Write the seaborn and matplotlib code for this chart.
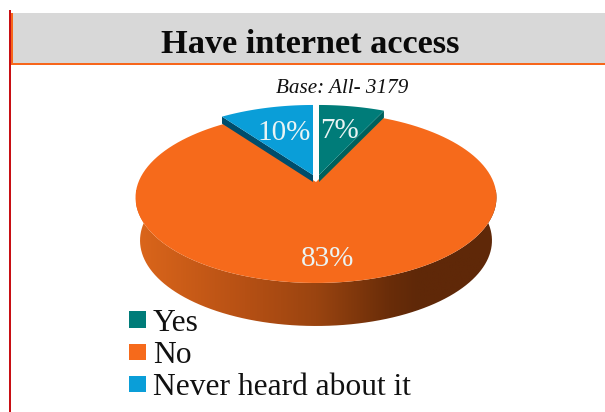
import numpy as np
import matplotlib
matplotlib.use("Agg")
import matplotlib.pyplot as plt
import seaborn as sns
from matplotlib.colors import LinearSegmentedColormap
from matplotlib.patches import Patch, PathPatch, Polygon, Rectangle
from matplotlib.path import Path

# Survey shares
categories = ["Yes", "No", "Never heard about it"]
shares = [7, 83, 10]
title_text = "Have internet access"
base_text = "Base: All- 3179"

sns.set_theme(style="white")
plt.rcParams["font.family"] = ["Liberation Serif", "DejaVu Serif"]
palette = sns.color_palette(["#007C79", "#F66A1B", "#0A9ED8"])
edge_palette = {"Yes": "#00605C", "Never heard about it": "#004D6B"}

# Drawing geometry, in pixels of the figure
WIDTH, HEIGHT = 605, 412
CX, CY = 316.0, 182.0
RX, RY, TILT = 177.5, 82.7, 0.181
DEPTH = 43.0
FLOOR_SCALE = 0.975
LIFT = {"Yes": (3.0, -7.0), "No": (0.0, 0.0), "Never heard about it": (-3.0, -7.0)}
LABEL_POS = {"Yes": (340, 131), "No": (328, 259), "Never heard about it": (284.5, 133)}

fig = plt.figure(figsize=(WIDTH / 100, HEIGHT / 100), dpi=100)
ax = fig.add_axes([0, 0, 1, 1])


def project(u, v, dx=0.0, dy=0.0, scale=1.0):
    """Tilted perspective of a point of the unit disc."""
    den = 1 + TILT * v
    return CX + dx + scale * RX * u / den, CY + dy - RY * v / den


wedges, _, autotexts = ax.pie(
    shares, startangle=90, counterclock=False, colors=palette, autopct="%.0f%%"
)
ax.set_aspect("auto")
ax.axis("off")

# Header band and rules
ax.add_patch(Rectangle((12, 13), WIDTH - 12, 50, fc="#D8D8D8", ec="none", zorder=1))
ax.add_patch(Rectangle((11, 63), WIDTH - 11, 2, fc="#F7661B", ec="none", zorder=2))
ax.add_patch(Rectangle((11, 13), 1.5, 52, fc="#F7661B", ec="none", zorder=2))
ax.add_patch(Rectangle((9, 10), 2.2, HEIGHT - 10, fc="#C80F14", ec="none", zorder=3))

# Outer wall of the disc, shaded from left to right
sweep = np.linspace(np.pi - np.arcsin(TILT), 2 * np.pi + np.arcsin(TILT), 200)
upper = np.column_stack(project(np.cos(sweep), np.sin(sweep)))
lower = np.column_stack(project(np.cos(sweep), np.sin(sweep), dy=DEPTH, scale=FLOOR_SCALE))
wall_path = Path(np.vstack([upper, lower[::-1], upper[:1]]))
wall_cmap = LinearSegmentedColormap.from_list(
    "wall",
    [(0.0, "#DB661B"), (0.30, "#B65014"), (0.50, "#9A4410"), (0.70, "#6A2D09"), (0.78, "#5F2808"), (1.0, "#5F2808")],
)
gradient = ax.imshow(
    np.linspace(0, 1, 256).reshape(1, -1),
    cmap=wall_cmap,
    extent=(136, 497, 326, 190),
    aspect="auto",
    zorder=4,
)
clip = PathPatch(wall_path, transform=ax.transData, fc="none", ec="none")
ax.add_patch(clip)
gradient.set_clip_path(clip)
ax.set_xlim(0, WIDTH)
ax.set_ylim(HEIGHT, 0)

# Top surfaces, using the angles the pie computed from the shares
for name, wedge, colour, text in zip(categories, wedges, palette, autotexts):
    theta = np.radians(np.linspace(wedge.theta1, wedge.theta2, 120))
    dx, dy = LIFT[name]
    arc_x, arc_y = project(np.cos(theta), np.sin(theta), dx, dy)
    tip = (CX + dx, CY + dy)
    wedge.remove()

    if name in edge_palette:
        # Cut face of a raised slice: the radial edge that looks towards the viewer
        side = 0 if name == "Yes" else -1
        rim = (arc_x[side], arc_y[side])
        ax.add_patch(
            Polygon(
                [tip, rim, (rim[0], rim[1] - dy), (tip[0], tip[1] - dy)],
                closed=True, fc=edge_palette[name], ec="none", zorder=5,
            )
        )
    ax.add_patch(
        Polygon(
            np.vstack([[tip], np.column_stack([arc_x, arc_y])]),
            closed=True, fc=colour, ec="none", zorder=6 if name != "No" else 4.5,
        )
    )
    text.set_position(LABEL_POS[name])
    text.set_ha("center")
    text.set_va("center")
    text.set_color("#EAF4F4")
    text.set_fontsize(21)
    text.set_zorder(8)

ax.text(310, 44, title_text, ha="center", va="center", fontsize=24.7,
        fontweight="bold", color="#0A0A0A", zorder=8)
ax.text(342, 88, base_text, ha="center", va="center", fontsize=15.2,
        style="italic", color="#111111", zorder=8)

handles = [Patch(fc=c, ec="none", label=n) for n, c in zip(categories, palette)]
ax.legend(
    handles=handles,
    loc="upper left",
    bbox_to_anchor=(129, 309),
    bbox_transform=ax.transData,
    frameon=False,
    fontsize=22.7,
    labelspacing=0.1,
    handlelength=0.53,
    handleheight=0.44,
    handletextpad=0.22,
    borderpad=0,
    borderaxespad=0,
    labelcolor="#111111",
)

fig.savefig("out.png", dpi=100)
